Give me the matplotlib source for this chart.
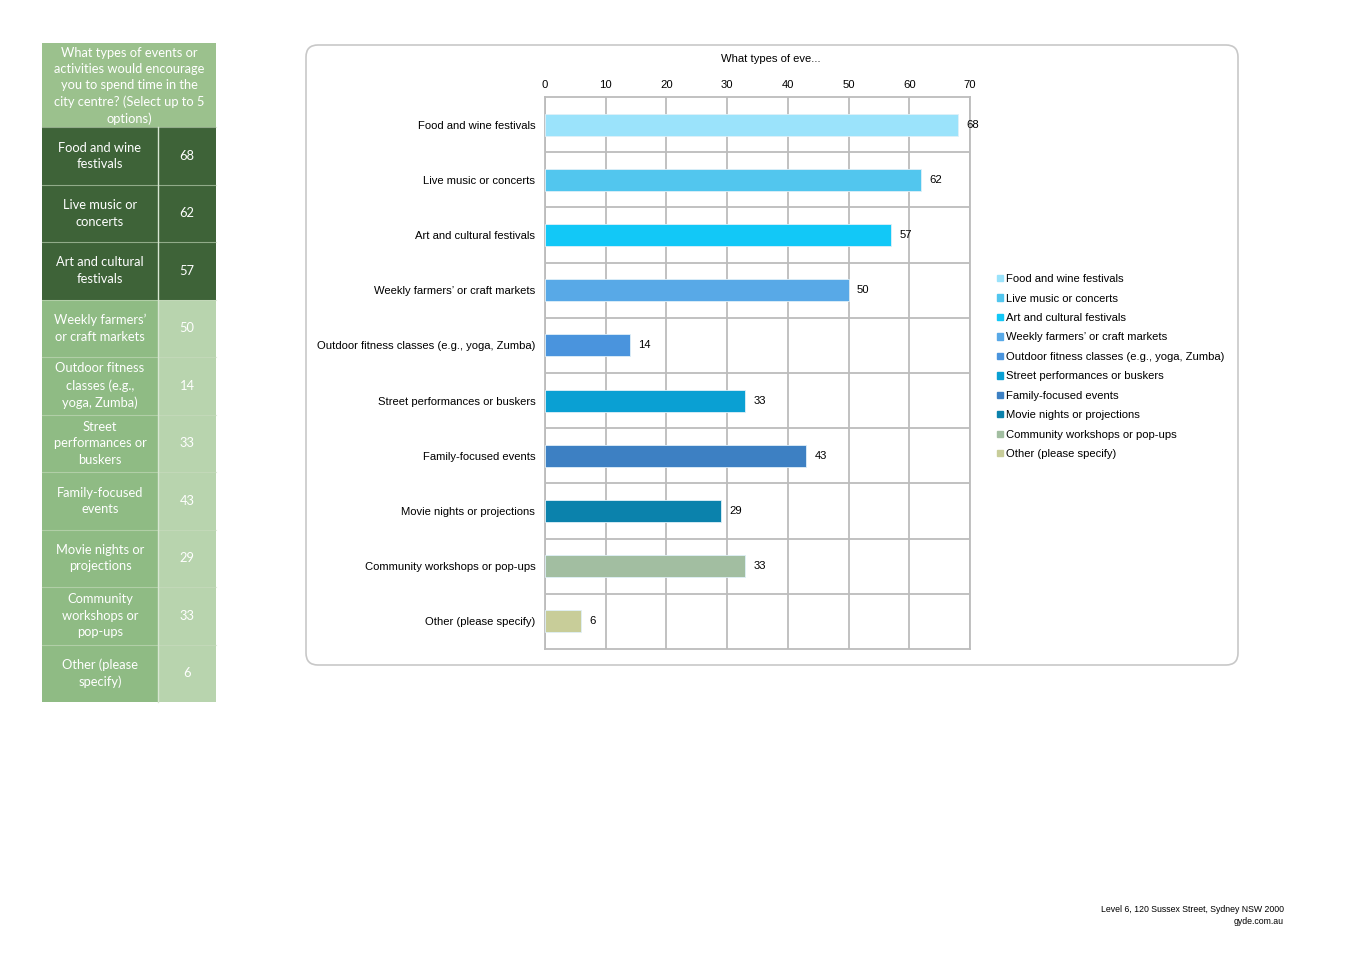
import matplotlib
matplotlib.use("Agg")
import matplotlib.pyplot as plt
from matplotlib.patches import Rectangle, FancyBboxPatch

# données
categories = ["Food and wine festivals", "Live music or concerts", "Art and cultural festivals",
              "Weekly farmers\u2019 or craft markets", "Outdoor fitness classes (e.g., yoga, Zumba)",
              "Street performances or buskers", "Family-focused events", "Movie nights or projections",
              "Community workshops or pop-ups", "Other (please specify)"]
values = [68, 62, 57, 50, 14, 33, 43, 29, 33, 6]
table_labels = ["Food and wine\nfestivals", "Live music or\nconcerts", "Art and cultural\nfestivals",
                "Weekly farmers\u2019\nor craft markets", "Outdoor fitness\nclasses (e.g.,\nyoga, Zumba)",
                "Street\nperformances or\nbuskers", "Family-focused\nevents", "Movie nights or\nprojections",
                "Community\nworkshops or\npop-ups", "Other (please\nspecify)"]
bar_colors = ["#9be3fb", "#52c6ee", "#12c8f7", "#58a9e7", "#4a94dd",
              "#0aa0d3", "#3d80c3", "#0b82ac", "#a2bea1", "#c8cd99"]
header = "What types of events or\nactivities would encourage\nyou to spend time in the\ncity centre? (Select up to 5\noptions)"

W, H = 1356, 958
fig = plt.figure(figsize=(W / 100, H / 100), dpi=100)
fig.patch.set_facecolor("white")

# fond en pixels
bg = fig.add_axes([0, 0, 1, 1])
bg.set_xlim(0, W)
bg.set_ylim(H, 0)
bg.axis("off")

# tableau de gauche
tx0, tsplit, tx1 = 42, 158, 216
bg.add_patch(Rectangle((tx0, 43), tx1 - tx0, 84, color="#9bc18d", lw=0))
bg.text((tx0 + tx1) / 2, 86, header, ha="center", va="center", color="white",
        fontsize=9.3, family="Lato", linespacing=1.42)
rh = (702 - 127) / len(values)
for i, (lab, v) in enumerate(zip(table_labels, values)):
    y0 = 127 + i * rh
    if i < 3:
        cl, cr = "#3e6338", "#3e6338"
    else:
        cl, cr = "#8fbb84", "#b8d4ae"
    bg.add_patch(Rectangle((tx0, y0), tsplit - tx0, rh, color=cl, lw=0))
    bg.add_patch(Rectangle((tsplit, y0), tx1 - tsplit, rh, color=cr, lw=0))
    bg.plot([tx0, tx1], [y0, y0], color="#c9dcc0", lw=0.8, alpha=0.6)
    bg.text((tx0 + tsplit) / 2, y0 + rh / 2, lab, ha="center", va="center", color="white",
            fontsize=9.3, family="Lato", linespacing=1.45)
    bg.text((tsplit + tx1) / 2, y0 + rh / 2, str(v), ha="center", va="center", color="white",
            fontsize=9.3, family="Lato")
bg.plot([tsplit, tsplit], [127, 702], color="#d8e6d2", lw=1)

# cadre du graphique
bg.add_patch(FancyBboxPatch((306, 45), 932, 620, boxstyle="round,pad=0,rounding_size=12",
                            fc="white", ec="#c8c8c8", lw=1.2))

fig.text(771 / W, 1 - 59 / H, "What types of eve...", ha="center", va="center",
         fontsize=8.1, family="Liberation Sans")

# graphique en barres
ax = fig.add_axes([545 / W, 1 - 649 / H, 425 / W, 552 / H])
y = list(range(len(values)))
bars = ax.barh(y, values, height=0.4, color=bar_colors, edgecolor="#e0f0f8", linewidth=0.6,
               zorder=3)
ax.set_xlim(0, 70)
ax.set_ylim(len(values) - 0.5, -0.5)
ax.set_xticks(range(0, 71, 10))
ax.set_yticks(y)
ax.set_yticklabels(categories, family="Liberation Sans", fontsize=8.1)
ax.set_yticks([i + 0.5 for i in y[:-1]], minor=True)
ax.xaxis.tick_top()
ax.tick_params(axis="x", length=0, pad=5, labelsize=8.1)
ax.tick_params(axis="y", which="both", length=0, pad=7)
for t in ax.get_xticklabels():
    t.set_family("Liberation Sans")
ax.grid(axis="x", color="#bcbcbc", lw=1.3, zorder=0)
ax.grid(axis="y", which="minor", color="#bcbcbc", lw=1.3, zorder=0)
for s in ax.spines.values():
    s.set_color("#bcbcbc")
    s.set_linewidth(1.3)
ax.bar_label(bars, padding=6, fontsize=8.1, family="Liberation Sans")

# légende
handles = [Rectangle((0, 0), 1, 1, color=c) for c in bar_colors]
fig.legend(handles, categories, loc="upper left", bbox_to_anchor=(987 / W, 1 - 264 / H),
           frameon=False, handlelength=0.5, handleheight=0.5, handletextpad=0.3,
           labelspacing=0.84, prop={"family": "Liberation Sans", "size": 8.1})

# pied de page
fig.text(1284 / W, 1 - 910 / H, "Level 6, 120 Sussex Street, Sydney NSW 2000", ha="right",
         va="center", fontsize=6.3, family="Liberation Sans")
fig.text(1284 / W, 1 - 921 / H, "gyde.com.au", ha="right", va="center", fontsize=6.3,
         family="Liberation Sans")

fig.savefig("out.png", dpi=100)
